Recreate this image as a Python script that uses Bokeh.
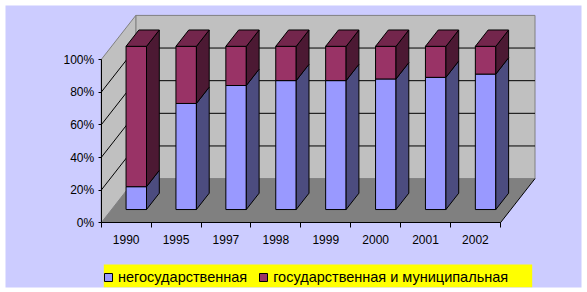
from bokeh.plotting import figure
from bokeh.models import LinearAxis, FixedTicker, Legend, LegendItem, ColumnDataSource
from bokeh.embed import file_html
from bokeh.resources import INLINE

# ---------------- data ----------------
years = ["1990", "1995", "1997", "1998", "1999", "2000", "2001", "2002"]
nongov = [14, 65, 76, 79, 79, 80, 81, 83]          # негосударственная, %
gov = [86, 35, 24, 21, 21, 20, 19, 17]             # государственная и муниципальная, %
series_names = ["негосударственная", "государственная и муниципальная"]
y_ticks = [0, 20, 40, 60, 80, 100]
y_labels = ["0%", "20%", "40%", "60%", "80%", "100%"]

# ---------------- style / geometry ----------------
W, H = 587, 292
FONT = "Liberation Sans"
BG = "#CCCCFF"
WALL = "#C0C0C0"
FLOOR = "#808080"
EDGE = "#808080"
BLUE, BLUE_SIDE = "#9999FF", "#4C4C7F"
RED, RED_SIDE, RED_TOP = "#993366", "#4C1933", "#73264C"

FL, FR, FT, FB = 5, 581, 5, 287          # frame (chart area) in pixels
PXU = 49.9                                # px per category
PXV = 1.632                               # px per percent
X0PX, Y0PX = 100.7, 222.3                 # origin of front axes in pixels
x_start = -(X0PX - FL) / PXU
x_end = x_start + (FR - FL) / PXU
y_start = -(FB - Y0PX) / PXV
y_end = y_start + (FB - FT) / PXV


def dx_px(px):
    return x_start + (px - FL) / PXU


def dy_px(py):
    return y_start + (FB - py) / PXV


DU = 34.6 / PXU        # full depth offset (x, data units)
DV = 44.2 / PXV        # full depth offset (y, data units)
F0 = 0.30              # bar front position in depth
D = 0.37               # bar depth
BAR_OFF, BAR_W = 0.29, 0.41

n = len(years)

p = figure(width=W, height=H, x_range=(x_start, x_end), y_range=(y_start, y_end),
           x_axis_type=None, y_axis_type=None, toolbar_location=None,
           output_backend="svg", min_border_left=FL, min_border_right=W - FR,
           min_border_top=FT, min_border_bottom=H - FB)
p.background_fill_color = BG
p.border_fill_color = "white"
p.outline_line_color = None

# walls & floor
p.quad(left=[DU], right=[n + DU], bottom=[DV], top=[100 + DV],
       fill_color=WALL, line_color=EDGE, line_width=1)
p.patches(xs=[[0, DU, DU, 0]], ys=[[0, DV, 100 + DV, 100]],
          fill_color=WALL, line_color=EDGE, line_width=1)
p.patches(xs=[[0, n, n + DU, DU]], ys=[[0, 0, DV, DV]],
          fill_color=FLOOR, line_color=None)
p.segment(x0=[n], y0=[0], x1=[n + DU], y1=[DV], line_color="black", line_width=1)

# gridlines (back wall and side wall)
grid = [t for t in y_ticks if 0 < t < 100]
p.segment(x0=[DU] * len(grid), y0=[g + DV for g in grid],
          x1=[n + DU] * len(grid), y1=[g + DV for g in grid],
          line_color="black", line_width=1)
p.segment(x0=[0] * len(grid), y0=grid, x1=[DU] * len(grid), y1=[g + DV for g in grid],
          line_color="black", line_width=1)

# bars
lefts, rights, b_bot, b_top, r_bot, r_top = [], [], [], [], [], []
side_b_xs, side_b_ys, side_r_xs, side_r_ys, top_xs, top_ys = [], [], [], [], [], []
for i in range(n):
    tot = nongov[i] + gov[i]
    pa = 100.0 * nongov[i] / tot
    L = i + BAR_OFF + F0 * DU
    R = L + BAR_W
    base = F0 * DV
    lefts.append(L); rights.append(R)
    b_bot.append(base); b_top.append(base + pa)
    r_bot.append(base + pa); r_top.append(base + 100)
    dx, dy = D * DU, D * DV
    side_b_xs.append([R, R + dx, R + dx, R]); side_b_ys.append([base, base + dy, base + pa + dy, base + pa])
    side_r_xs.append([R, R + dx, R + dx, R]); side_r_ys.append([base + pa, base + pa + dy, base + 100 + dy, base + 100])
    top_xs.append([L, R, R + dx, L + dx]); top_ys.append([base + 100] * 2 + [base + 100 + dy] * 2)

src = ColumnDataSource(dict(year=years, left=lefts, right=rights, bb=b_bot, bt=b_top, rb=r_bot, rt=r_top))
rb = p.quad(left="left", right="right", bottom="bb", top="bt", source=src,
            fill_color=BLUE, line_color="black", line_width=1)
rr = p.quad(left="left", right="right", bottom="rb", top="rt", source=src,
            fill_color=RED, line_color="black", line_width=1)
p.patches(xs=side_b_xs, ys=side_b_ys, fill_color=BLUE_SIDE, line_color="black", line_width=1)
p.patches(xs=side_r_xs, ys=side_r_ys, fill_color=RED_SIDE, line_color="black", line_width=1)
p.patches(xs=top_xs, ys=top_ys, fill_color=RED_TOP, line_color="black", line_width=1)

# legend background box (yellow)
p.quad(left=[dx_px(103.3)], right=[dx_px(531.7)], bottom=[dy_px(287)], top=[dy_px(264)],
       fill_color="#FFFF00", line_color=None)

# axes
yax = LinearAxis(fixed_location=0, bounds=(0, 100),
                 ticker=FixedTicker(ticks=y_ticks, minor_ticks=[]),
                 major_label_overrides={t: l for t, l in zip(y_ticks, y_labels)})
yax.major_tick_out = 3
yax.major_tick_in = 0
yax.minor_tick_out = 0
yax.minor_tick_in = 0
yax.major_label_standoff = 4
p.add_layout(yax, "left")

centers = [i + 0.5 for i in range(n)]
xax = LinearAxis(fixed_location=0, bounds=(0, n),
                 ticker=FixedTicker(ticks=centers, minor_ticks=list(range(n + 1))),
                 major_label_overrides={c: y for c, y in zip(centers, years)})
xax.major_tick_out = 0
xax.major_tick_in = 0
xax.minor_tick_out = 5
xax.minor_tick_in = 0
xax.major_label_standoff = 7
p.add_layout(xax, "below")

for ax in (xax, yax):
    ax.axis_line_color = "black"
    ax.major_tick_line_color = "black"
    ax.minor_tick_line_color = "black"
    ax.major_label_text_color = "black"
    ax.major_label_text_font = FONT
    ax.major_label_text_font_size = "12px"

legend = Legend(items=[LegendItem(label=series_names[0], renderers=[rb]),
                       LegendItem(label=series_names[1], renderers=[rr])],
                orientation="horizontal", location=(98, 2))
legend.background_fill_alpha = 0
legend.border_line_color = None
legend.glyph_width = 10
legend.glyph_height = 10
legend.label_standoff = 5
legend.spacing = 11
legend.padding = 4
legend.margin = 0
legend.label_text_font = FONT
legend.label_text_font_size = "14.5px"
legend.label_text_color = "black"
p.add_layout(legend, "center")

open("out.html", "w").write(file_html(p, INLINE))
